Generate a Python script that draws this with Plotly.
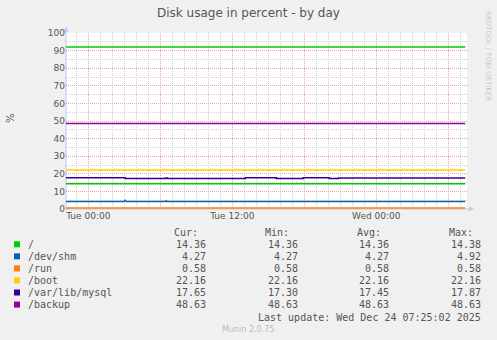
import plotly.graph_objects as go

# ---------------- data ----------------
title = "Disk usage in percent - by day"
names = ["/", "/dev/shm", "/run", "/boot", "/var/lib/mysql", "/backup"]
colors = ["#00CC00", "#0066B3", "#FF8000", "#FFCC00", "#330099", "#990099"]
cur_vals = ["14.36", "4.27", "0.58", "22.16", "17.65", "48.63"]
min_vals = ["14.36", "4.27", "0.58", "22.16", "17.30", "48.63"]
avg_vals = ["14.36", "4.27", "0.58", "22.16", "17.45", "48.63"]
max_vals = ["14.38", "4.92", "0.58", "22.16", "17.87", "48.63"]
last_update = "Last update: Wed Dec 24 07:25:02 2025"
footer = "Munin 2.0.75"
side_text = "RRDTOOL / TOBI OETIKER"

t_first = "2025-12-22 22:05"
t_last = "2025-12-24 07:25"

root_t = [t_first, t_last]
root_v = [14.36, 14.36]

shm_t = [t_first, "2025-12-23 03:00", "2025-12-23 03:05", "2025-12-23 03:10",
         "2025-12-23 06:25", "2025-12-23 06:30", "2025-12-23 06:35",
         "2025-12-24 06:20", "2025-12-24 06:25", "2025-12-24 06:30", t_last]
shm_v = [4.27, 4.27, 4.92, 4.27, 4.27, 4.70, 4.27, 4.27, 4.60, 4.27, 4.27]

run_t = [t_first, t_last]
run_v = [0.58, 0.58]

boot_t = [t_first, t_last]
boot_v = [22.16, 22.16]

mysql_t = [t_first, "2025-12-23 03:05", "2025-12-23 06:25", "2025-12-23 06:35",
           "2025-12-23 13:05", "2025-12-23 15:40", "2025-12-23 17:55",
           "2025-12-23 20:05", "2025-12-23 20:50", t_last]
mysql_v = [17.80, 17.35, 17.60, 17.35, 17.75, 17.35, 17.75, 17.30, 17.65, 17.65]

backup_t = [t_first, t_last]
backup_v = [48.63, 48.63]

warn_t = [t_first, t_last]
warn_v = [92, 92]

x_range = ["2025-12-22 22:08:30", "2025-12-24 07:33:30"]
x_tickvals = ["2025-12-23 00:00", "2025-12-23 06:00", "2025-12-23 12:00",
              "2025-12-23 18:00", "2025-12-24 00:00", "2025-12-24 06:00"]
x_ticktext = ["Tue 00:00", "", "Tue 12:00", "", "Wed 00:00", ""]
y_tickvals = [0, 10, 20, 30, 40, 50, 60, 70, 80, 90, 100]

# ---------------- layout helpers ----------------
W, H = 497, 340
L, R, T, B = 66, 30, 33, 131
PW, PH = W - L - R, H - T - B


def px(x):
    return (x - L) / PW


def py(y):
    return (T + PH - y) / PH


TXT = "#555555"
MONO = "DejaVu Sans Mono"
SANS = "DejaVu Sans"
AXC = "#C4C4EE"
LW = 1.5

fig = go.Figure()

series = [
    (root_t, root_v, "linear"),
    (shm_t, shm_v, "linear"),
    (run_t, run_v, "linear"),
    (boot_t, boot_v, "linear"),
    (mysql_t, mysql_v, "hv"),
    (backup_t, backup_v, "linear"),
]
fig.add_trace(go.Scatter(x=warn_t, y=warn_v, mode="lines",
                         line=dict(color=colors[0], width=LW),
                         showlegend=False, hoverinfo="skip"))
for (t, v, shape), name, c in zip(series, names, colors):
    fig.add_trace(go.Scatter(x=t, y=v, mode="lines", name=name,
                             line=dict(color=c, width=LW, shape=shape),
                             showlegend=False, cliponaxis=False))

ann = []
shapes = []

# title, side text, y label
ann.append(dict(text=title, x=px(248), y=py(13), xref="paper", yref="paper",
                showarrow=False, xanchor="center", yanchor="middle",
                font=dict(family=SANS, size=12, color=TXT)))
ann.append(dict(text=side_text, x=px(488), y=py(56), xref="paper", yref="paper",
                showarrow=False, xanchor="center", yanchor="middle", textangle=90,
                font=dict(family=SANS, size=7, color="#C8C8C8")))
ann.append(dict(text="%", x=px(10), y=py(118), xref="paper", yref="paper",
                showarrow=False, xanchor="center", yanchor="middle", textangle=-90,
                font=dict(family=SANS, size=10, color=TXT)))

# legend headers
for txt, x0 in [("Cur:", 172), ("Min:", 263), ("Avg:", 355), ("Max:", 447)]:
    ann.append(dict(text=txt, x=px(x0), y=py(233), xref="paper", yref="paper",
                    showarrow=False, xanchor="left", yanchor="middle",
                    font=dict(family=MONO, size=10, color=TXT)))

for i, name in enumerate(names):
    ry = 244.3 + 12.05 * i
    shapes.append(dict(type="rect", xref="paper", yref="paper",
                       x0=px(14), x1=px(20), y0=py(ry - 3), y1=py(ry + 3),
                       fillcolor=colors[i], line=dict(width=0)))
    ann.append(dict(text=name, x=px(26), y=py(ry), xref="paper", yref="paper",
                    showarrow=False, xanchor="left", yanchor="middle",
                    font=dict(family=MONO, size=10, color=TXT)))
    for vals, xr in [(cur_vals, 207.5), (min_vals, 300), (avg_vals, 391), (max_vals, 482.5)]:
        ann.append(dict(text=vals[i], x=px(xr), y=py(ry), xref="paper", yref="paper",
                        showarrow=False, xanchor="right", yanchor="middle",
                        font=dict(family=MONO, size=10, color=TXT)))

ann.append(dict(text=last_update, x=px(482.5), y=py(317), xref="paper", yref="paper",
                showarrow=False, xanchor="right", yanchor="middle",
                font=dict(family=MONO, size=10, color=TXT)))
ann.append(dict(text=footer, x=px(248), y=py(329), xref="paper", yref="paper",
                showarrow=False, xanchor="center", yanchor="middle",
                font=dict(family=SANS, size=8, color="#BBBBBB")))

# axis arrows (drawn below the data)
shapes.append(dict(type="line", xref="paper", yref="paper", layer="below",
                   x0=px(66), x1=px(66), y0=py(209), y1=py(28),
                   line=dict(color=AXC, width=1)))
shapes.append(dict(type="path", xref="paper", yref="paper", layer="below",
                   path=f"M {px(63.5)} {py(31.5)} L {px(68.5)} {py(31.5)} L {px(66)} {py(26.5)} Z",
                   fillcolor=AXC, line=dict(width=0)))
shapes.append(dict(type="line", xref="paper", yref="paper", layer="below",
                   x0=px(66), x1=px(472), y0=py(209), y1=py(209),
                   line=dict(color=AXC, width=1)))
shapes.append(dict(type="path", xref="paper", yref="paper", layer="below",
                   path=f"M {px(469)} {py(206.5)} L {px(469)} {py(211.5)} L {px(474)} {py(209)} Z",
                   fillcolor=AXC, line=dict(width=0)))

fig.update_layout(
    width=W, height=H,
    margin=dict(l=L, r=R, t=T, b=B, pad=0),
    paper_bgcolor="#F0F0F0", plot_bgcolor="#FFFFFF",
    showlegend=False,
    annotations=ann, shapes=shapes,
    font=dict(family=SANS, size=9, color=TXT),
)
fig.update_xaxes(
    type="date", range=x_range, tickmode="array",
    tickvals=x_tickvals, ticktext=x_ticktext,
    showgrid=True, gridcolor="#F2A0A0", griddash="1px,1px", gridwidth=1,
    minor=dict(tickmode="linear", tick0="2025-12-23 00:00", dtick=3600000,
               showgrid=True, gridcolor="#D0D0D0", griddash="1px,1px", gridwidth=1),
    showline=False, zeroline=False, ticks="",
    tickfont=dict(family=SANS, size=9, color=TXT),
)
fig.update_yaxes(
    range=[0, 100], tickmode="array", tickvals=y_tickvals,
    showgrid=True, gridcolor="#F2A0A0", griddash="1px,1px", gridwidth=1,
    minor=dict(tickmode="linear", tick0=0, dtick=5,
               showgrid=True, gridcolor="#D0D0D0", griddash="1px,1px", gridwidth=1),
    showline=False, zeroline=False, ticks="",
    tickfont=dict(family=SANS, size=9, color=TXT),
)

fig.write_html("out.html")
